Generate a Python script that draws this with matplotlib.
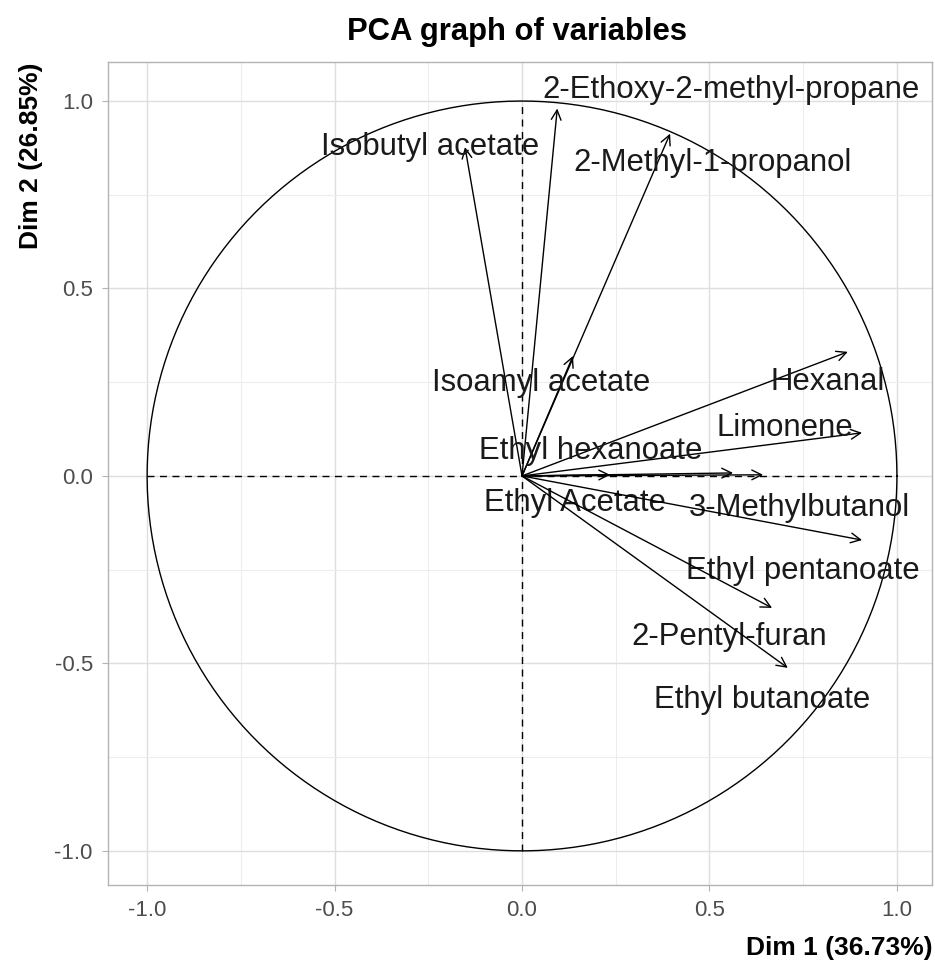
import numpy as np
import matplotlib
matplotlib.use("Agg")
import matplotlib.pyplot as plt

# variable coordinates on Dim 1 / Dim 2
variables = ['Isobutyl acetate', '2-Ethoxy-2-methyl-propane', '2-Methyl-1-propanol',
             'Isoamyl acetate', 'Hexanal', 'Limonene', 'Ethyl hexanoate',
             'Ethyl Acetate', '3-Methylbutanol', 'Ethyl pentanoate',
             '2-Pentyl-furan', 'Ethyl butanoate']
dim1 = [-0.152, 0.094, 0.395, 0.136, 0.869, 0.907, 0.563, 0.235, 0.643, 0.907, 0.667, 0.709]
dim2 = [0.877, 0.980, 0.913, 0.320, 0.331, 0.115, 0.008, 0.003, 0.003, -0.171, -0.352, -0.512]

# where the (repelled) labels ended up
label_pos = [(-0.245, 0.877), (0.557, 1.029), (0.509, 0.835), (0.051, 0.248),
             (0.816, 0.251), (0.701, 0.128), (0.184, 0.067), (0.141, -0.072),
             (0.741, -0.085), (0.749, -0.253), (0.552, -0.429), (0.640, -0.597)]

xlab = 'Dim 1 (36.73%)'
ylab = 'Dim 2 (26.85%)'
ticks = [-1.0, -0.5, 0.0, 0.5, 1.0]

plt.rcParams['font.family'] = ['Liberation Sans', 'DejaVu Sans']

fig = plt.figure(figsize=(9.35, 9.71), dpi=100)
ax = fig.add_axes([0.1144, 0.0886, 0.8834, 0.8475])

ax.set_xlim(-1.104, 1.093)
ax.set_ylim(-1.091, 1.104)
ax.set_aspect('equal', adjustable='box')

# grid like theme_light
ax.set_xticks(ticks)
ax.set_yticks(ticks)
ax.set_xticks([-0.75, -0.25, 0.25, 0.75], minor=True)
ax.set_yticks([-0.75, -0.25, 0.25, 0.75], minor=True)
ax.grid(which='major', color='#dedede', lw=1.0)
ax.grid(which='minor', color='#ededed', lw=0.8)
ax.set_axisbelow(True)
ax.tick_params(which='minor', length=0)
ax.tick_params(which='major', length=4, color='#b3b3b3', labelsize=16,
               labelcolor='#4d4d4d', pad=7)
ax.set_xticklabels(['%.1f' % t for t in ticks])
ax.set_yticklabels(['%.1f' % t for t in ticks])
for s in ax.spines.values():
    s.set_color('#b3b3b3')
    s.set_linewidth(1.0)

# unit circle and dashed axes
th = np.linspace(0, 2 * np.pi, 400)
ax.plot(np.cos(th), np.sin(th), color='black', lw=1.0)
ax.plot([-1, 1], [0, 0], color='black', lw=1.0, ls=(0, (5, 4)))
ax.plot([0, 0], [-1, 1], color='black', lw=1.0, ls=(0, (5, 4)))

for name, x, y, (lx, ly) in zip(variables, dim1, dim2, label_pos):
    ax.annotate('', xy=(x, y), xytext=(0, 0),
                arrowprops=dict(arrowstyle='->,head_length=0.7,head_width=0.35',
                                color='black', lw=1.0, shrinkA=0, shrinkB=0))
    ax.text(lx, ly, name, ha='center', va='center', fontsize=22.4, color='#1a1a1a')

fig.text(0.553, 0.967, 'PCA graph of variables', ha='center', va='center',
         fontsize=22.3, fontweight='bold')
fig.text(0.997, 0.024, xlab, ha='right', va='center', fontsize=19, fontweight='bold')
fig.text(0.033, 0.936, ylab, ha='center', va='top', rotation=90, fontsize=19,
         fontweight='bold')

fig.savefig('out.png', dpi=100)
